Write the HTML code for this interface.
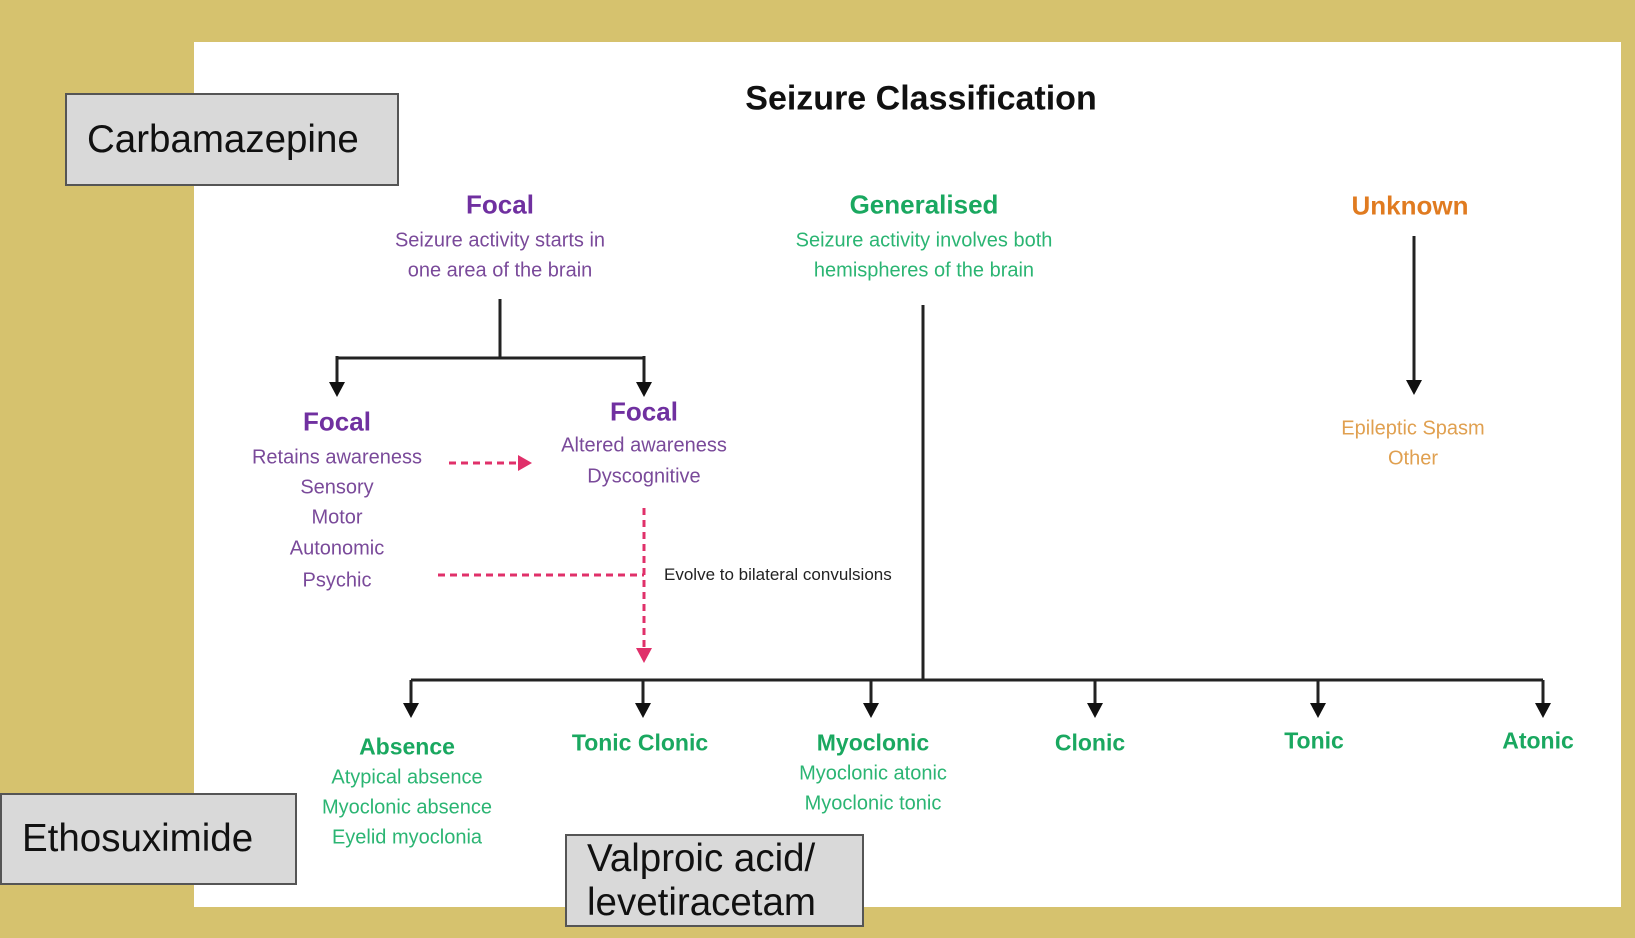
<!DOCTYPE html>
<html><head><meta charset="utf-8"><style>
body{margin:0;width:1635px;height:938px;background:#d6c26e;position:relative;overflow:hidden;font-family:"Liberation Sans",sans-serif}
.panel{position:absolute;left:194px;top:42px;width:1427px;height:865px;background:#fff}
.t{position:absolute;transform:translate(-50%,-50%);white-space:nowrap;text-align:center}
.p{color:#7a4a9a}.ph{color:#7030a0;font-weight:bold;font-size:26px}
.g{color:#2bb573}.gh{color:#1aa860;font-weight:bold;font-size:23px}
.o{color:#e0a050}.oh{color:#e07b20;font-weight:bold;font-size:26px}
.s{font-size:20px}
.box{position:absolute;background:#d9d9d9;border:2px solid #555;box-sizing:border-box;font-size:38.5px;color:#111;padding-left:20px;display:flex;align-items:center}
svg{position:absolute;left:0;top:0}
</style></head><body>
<div class="panel"></div>
<svg width="1635" height="938">
<g stroke="#222" stroke-width="3" fill="none">
<path d="M500 299V358M337 358H644M337 356V385M644 356V385"/>
<path d="M923 305V680M411 680H1543M411 680V705M643 680V705M871 680V705M1095 680V705M1318 680V705M1543 680V705"/>
<path d="M1414 236V382"/>
</g>
<g fill="#111">
<path d="M329 382h16l-8 15z"/><path d="M636 382h16l-8 15z"/>
<path d="M403 703h16l-8 15z"/><path d="M635 703h16l-8 15z"/><path d="M863 703h16l-8 15z"/><path d="M1087 703h16l-8 15z"/><path d="M1310 703h16l-8 15z"/><path d="M1535 703h16l-8 15z"/>
<path d="M1406 380h16l-8 15z"/>
</g>
<g stroke="#e0306a" stroke-width="3" fill="none" stroke-dasharray="7,5">
<path d="M449 463H518"/><path d="M438 575H644"/><path d="M644 508V648"/>
</g>
<g fill="#e0306a"><path d="M518 455l14 8-14 8z"/><path d="M636 648h16l-8 15z"/></g>
</svg>
<div class="t" style="left:921px;top:99px;font-weight:bold;font-size:34px;color:#111">Seizure Classification</div>
<div class="t ph" style="left:500px;top:205px">Focal</div>
<div class="t p s" style="left:500px;top:241px">Seizure activity starts in</div>
<div class="t p s" style="left:500px;top:271px">one area of the brain</div>
<div class="t gh" style="left:924px;top:205px;font-size:26px">Generalised</div>
<div class="t g s" style="left:924px;top:241px">Seizure activity involves both</div>
<div class="t g s" style="left:924px;top:271px">hemispheres of the brain</div>
<div class="t oh" style="left:1410px;top:206px">Unknown</div>
<div class="t o s" style="left:1413px;top:429px">Epileptic Spasm</div>
<div class="t o s" style="left:1413px;top:459px">Other</div>
<div class="t ph" style="left:337px;top:422px">Focal</div>
<div class="t p s" style="left:337px;top:458px">Retains awareness</div>
<div class="t p s" style="left:337px;top:488px">Sensory</div>
<div class="t p s" style="left:337px;top:518px">Motor</div>
<div class="t p s" style="left:337px;top:549px">Autonomic</div>
<div class="t p s" style="left:337px;top:581px">Psychic</div>
<div class="t ph" style="left:644px;top:412px">Focal</div>
<div class="t p s" style="left:644px;top:446px">Altered awareness</div>
<div class="t p s" style="left:644px;top:477px">Dyscognitive</div>
<div style="position:absolute;left:664px;top:565px;font-size:17px;color:#222">Evolve to bilateral convulsions</div>
<div class="t gh" style="left:407px;top:747px">Absence</div>
<div class="t g s" style="left:407px;top:778px">Atypical absence</div>
<div class="t g s" style="left:407px;top:808px">Myoclonic absence</div>
<div class="t g s" style="left:407px;top:838px">Eyelid myoclonia</div>
<div class="t gh" style="left:640px;top:743px">Tonic Clonic</div>
<div class="t gh" style="left:873px;top:743px">Myoclonic</div>
<div class="t g s" style="left:873px;top:774px">Myoclonic atonic</div>
<div class="t g s" style="left:873px;top:804px">Myoclonic tonic</div>
<div class="t gh" style="left:1090px;top:743px">Clonic</div>
<div class="t gh" style="left:1314px;top:741px">Tonic</div>
<div class="t gh" style="left:1538px;top:741px">Atonic</div>
<div class="box" style="left:65px;top:93px;width:334px;height:93px">Carbamazepine</div>
<div class="box" style="left:0;top:793px;width:297px;height:92px">Ethosuximide</div>
<div class="box" style="left:565px;top:834px;width:299px;height:93px;line-height:44px">Valproic acid/<br>levetiracetam</div>
</body></html>
